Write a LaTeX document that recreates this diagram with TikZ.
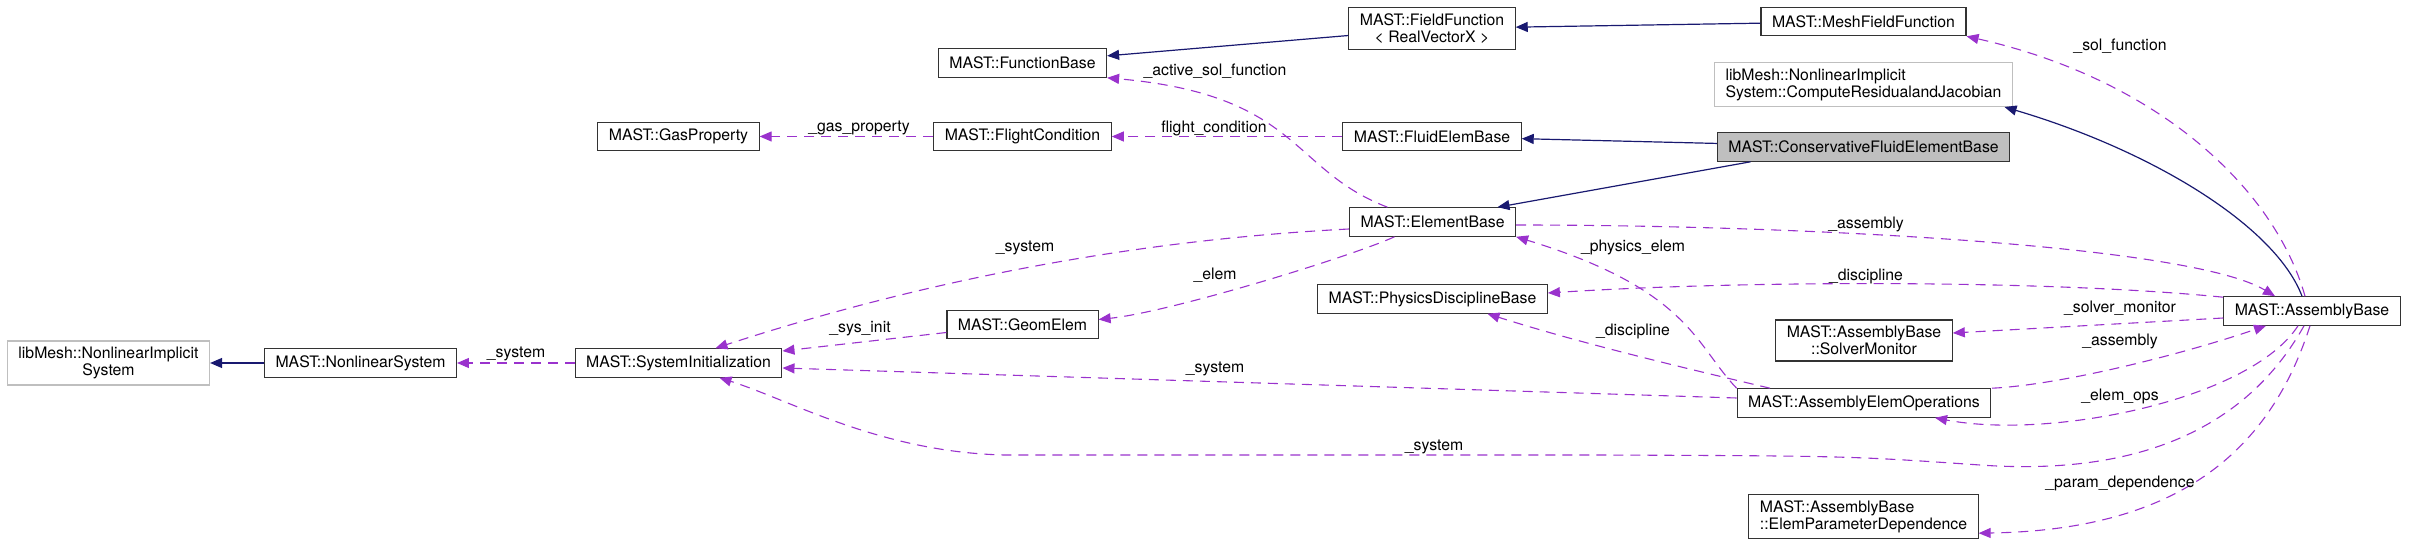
\documentclass[tikz,border=0pt]{standalone}
\usepackage{fontspec}
\setmainfont{TeX Gyre Heros}
\usepackage{tikz}
\usetikzlibrary{arrows.meta}
\definecolor{DoxNavy}{HTML}{191970}
\definecolor{DoxPurple}{HTML}{9A32CD}
\definecolor{DoxGray}{HTML}{BFBFBF}

\begin{document}
\begin{tikzpicture}[
    x=1pt, y=-1pt,
    font=\fontsize{15.8}{17}\selectfont,
    cls/.style={draw=black!80, line width=1.1pt, fill=white, inner xsep=11pt, inner ysep=6pt, minimum height=28.5pt, align=center},
    extcls/.style={cls, draw=DoxGray},
    curcls/.style={cls, fill=DoxGray},
    inherit/.style={-{Triangle[length=12pt, width=10pt]}, color=DoxNavy, line width=1.2pt},
    usage/.style={-{Triangle[length=12pt, width=10pt]}, color=DoxPurple, line width=1.1pt, dash pattern=on 10pt off 7pt},
    lbl/.style={inner sep=0pt, text=black}
]
    \useasboundingbox (0,0) rectangle (2409,545);

    \node[cls] (gasprop) at (678.5,136.5) {MAST::GasProperty};
    \node[cls] (funcbase) at (1022.5,63) {MAST::FunctionBase};
    \node[cls] (fieldfunc) at (1432,28.5) {MAST::FieldFunction\\< RealVectorX >};
    \node[cls] (flightcond) at (1022.5,136.5) {MAST::FlightCondition};
    \node[cls] (fluidelem) at (1432,136.5) {MAST::FluidElemBase};
    \node[cls] (elembase) at (1432.5,222) {MAST::ElementBase};
    \node[cls] (meshfield) at (1863.5,21.5) {MAST::MeshFieldFunction};
    \node[extcls, align=left] (computeres) at (1863.5,84.5) {libMesh::NonlinearImplicit\\System::ComputeResidualandJacobian};
    \node[curcls] (consfluid) at (1863.5,147) {MAST::ConservativeFluidElementBase};
    \node[extcls] (nlimplicit) at (108.5,363) {libMesh::NonlinearImplicit\\System};
    \node[cls] (nlsystem) at (360.5,363) {MAST::NonlinearSystem};
    \node[cls] (sysinit) at (678.5,363) {MAST::SystemInitialization};
    \node[cls] (geomelem) at (1022.5,324.5) {MAST::GeomElem};
    \node[cls] (physdisc) at (1432.5,299) {MAST::PhysicsDisciplineBase};
    \node[cls] (assembly) at (2312,311) {MAST::AssemblyBase};
    \node[cls] (solvermon) at (1864,340.5) {MAST::AssemblyBase\\::SolverMonitor};
    \node[cls] (elemops) at (1864,403) {MAST::AssemblyElemOperations};
    \node[cls, align=left] (paramdep) at (1863.5,516.5) {MAST::AssemblyBase\\::ElemParameterDependence};

    \draw[inherit] (fieldfunc) -- (funcbase);
    \draw[inherit] (meshfield) -- (fieldfunc);
    \draw[inherit] (consfluid) -- (fluidelem);
    \draw[inherit] ([xshift=-113]consfluid.south) -- ([xshift=65]elembase.north);
    \draw[inherit] ([xshift=-10]assembly.north) .. controls (2275,225) and (2150,150) .. ([xshift=141]computeres.south);
    \draw[inherit] (nlsystem) -- (nlimplicit);

    \draw[usage] (flightcond) -- (gasprop);
    \draw[usage] (fluidelem) -- (flightcond);
    \draw[usage] ([xshift=-45]elembase.north) .. controls (1290,170) and (1300,95) .. (funcbase.south east);
    \draw[usage] ([yshift=-7]elembase.west) .. controls (1135,240) and (925,280) .. ([xshift=37]sysinit.north);
    \draw[usage] ([xshift=-38]elembase.south) .. controls (1350,257) and (1170,312) .. ([yshift=5]geomelem.east);
    \draw[usage] ([yshift=-3]elembase.east) .. controls (1800,225) and (2190,245) .. ([xshift=-37]assembly.north);
    \draw[usage] ([xshift=-7]assembly.north) .. controls (2275,190) and (2160,80) .. (meshfield.south east);
    \draw[usage] ([yshift=-1]assembly.north west) .. controls (2050,280) and (1750,280) .. ([yshift=6]physdisc.east);
    \draw[usage] (elemops.north west) .. controls (1695,345) and (1690,290) .. (elembase.south east);
    \draw[usage] ([xshift=-94]elemops.north) .. controls (1680,367) and (1580,343) .. ([xshift=55]physdisc.south);
    \draw[usage] ([xshift=128]elemops.north) .. controls (2060,385) and (2180,355) .. ([xshift=-46]assembly.south);
    \draw[usage] ([yshift=-7]assembly.west) -- ([yshift=7.5]solvermon.east);
    \draw[usage] ([xshift=-14]assembly.south) .. controls (2250,400) and (2050,440) .. ([xshift=71]elemops.south);
    \draw[usage] ([yshift=5]elemops.west) -- ([yshift=-5]sysinit.east);
    \draw[usage] ([xshift=-8]assembly.south) .. controls (2240,440) and (2120,475) .. (1980,465)
        .. controls (1850,456) .. (1600,455) -- (1004,455) .. controls (880,452) and (790,400) .. ([xshift=41]sysinit.south);
    \draw[usage] ([xshift=-2]assembly.south) .. controls (2270,450) and (2180,530) .. ([yshift=6]paramdep.south east);
    \draw[usage] ([yshift=-8]geomelem.west) -- ([yshift=12]sysinit.east);
    \draw[usage] (sysinit) -- (nlsystem);

    \node[lbl] (l-gas) at (859,128) {\_gas\_property};
    \node[lbl] (l-flight) at (1214,128) {flight\_condition};
    \node[lbl] (l-active) at (1215,71) {\_active\_sol\_function};
    \node[lbl] (l-sysA) at (1025,248) {\_system};
    \node[lbl] (l-elem) at (1215,275) {\_elem};
    \node[lbl] (l-asmA) at (1866,224) {\_assembly};
    \node[lbl] (l-solfn) at (2120,46) {\_sol\_function};
    \node[lbl] (l-discA) at (1866,276) {\_discipline};
    \node[lbl] (l-phys) at (1633,247) {\_physics\_elem};
    \node[lbl] (l-discB) at (1633,331) {\_discipline};
    \node[lbl] (l-asmB) at (2120,341) {\_assembly};
    \node[lbl] (l-solver) at (2120,308) {\_solver\_monitor};
    \node[lbl] (l-elemops) at (2120,396) {\_elem\_ops};
    \node[lbl] (l-sysB) at (1215,369) {\_system};
    \node[lbl] (l-sysC) at (1434,447) {\_system};
    \node[lbl] (l-param) at (2120,483) {\_param\_dependence};
    \node[lbl] (l-sysinit) at (860,329) {\_sys\_init};
    \node[lbl] (l-sysD) at (516,354) {\_system};
\end{tikzpicture}
\end{document}
